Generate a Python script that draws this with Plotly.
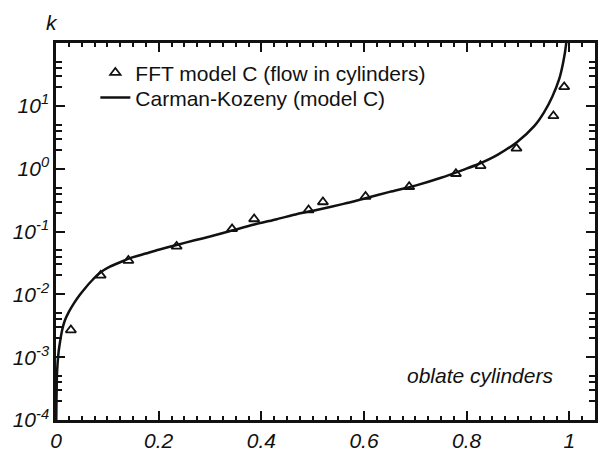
import plotly.graph_objects as go

# FFT model C data (triangles)
fft_x = [0.029, 0.087, 0.141, 0.235, 0.343, 0.386, 0.492, 0.520, 0.603, 0.688, 0.779, 0.827, 0.897, 0.969, 0.990]
fft_k = [0.0027, 0.020, 0.0345, 0.058, 0.110, 0.158, 0.22, 0.295, 0.36, 0.515, 0.83, 1.11, 2.1, 6.9, 20.0]

# Carman-Kozeny curve
ck_x = [0.0005, 0.002, 0.005, 0.008, 0.012, 0.017, 0.025, 0.033, 0.045, 0.056, 0.070,
        0.087, 0.105, 0.125, 0.150, 0.175, 0.200, 0.235, 0.270, 0.300, 0.343, 0.386,
        0.430, 0.470, 0.512, 0.560, 0.603, 0.650, 0.700, 0.750, 0.796, 0.822, 0.860,
        0.899, 0.932, 0.951, 0.967, 0.980, 0.988, 0.994, 0.997]
ck_k = [1.0e-4, 5.6e-4, 1.2e-3, 1.78e-3, 2.7e-3, 3.8e-3, 5.25e-3, 6.8e-3, 9.5e-3, 1.23e-2, 1.66e-2,
        2.24e-2, 2.75e-2, 3.24e-2, 3.9e-2, 4.47e-2, 5.13e-2, 6.1e-2, 7.24e-2, 8.3e-2, 0.1035, 0.129,
        0.157, 0.19, 0.224, 0.275, 0.339, 0.427, 0.537, 0.716, 0.977, 1.175, 1.66,
        2.69, 4.79, 7.94, 14.1, 26.3, 49.0, 100.0, 250.0]

x_tickvals = [0, 0.2, 0.4, 0.6, 0.8, 1.0]
x_ticktext = ["0", "0.2", "0.4", "0.6", "0.8", "1"]
y_tickvals = [1e-4, 1e-3, 1e-2, 1e-1, 1e0, 1e1]
y_ticktext = ["10<sup>-4</sup>", "10<sup>-3</sup>", "10<sup>-2</sup>", "10<sup>-1</sup>",
              "10<sup>0</sup>", "10<sup>1</sup>"]

FONT = "Liberation Sans, Arial, Helvetica, sans-serif"
FS = 21

fig = go.Figure()
fig.add_trace(go.Scatter(
    x=fft_x, y=fft_k, mode="markers", name="FFT model C (flow in cylinders)",
    marker=dict(symbol="triangle-up-open", size=9, color="#111", line=dict(width=1.8, color="#111")),
    legend="legend",
))
fig.add_trace(go.Scatter(
    x=ck_x, y=ck_k, mode="lines", name="Carman-Kozeny (model C)",
    line=dict(color="#111", width=2.5, shape="spline", smoothing=0.6),
    legend="legend2",
))

minor_y = []
for e in range(-4, 2):
    for m in (2, 3, 4, 5):
        minor_y.append(m * 10 ** e)

leg_common = dict(xanchor="left", yanchor="top", bgcolor="rgba(0,0,0,0)",
                  font=dict(size=FS, family=FONT), itemwidth=30)

fig.update_layout(
    width=606, height=460,
    margin=dict(l=56, r=8, t=43, b=37),
    paper_bgcolor="white", plot_bgcolor="white",
    font=dict(family=FONT, size=FS, color="#111"),
    showlegend=True,
    legend=dict(x=0.073, y=0.975, **leg_common),
    legend2=dict(x=0.073, y=0.909, **leg_common),
    xaxis=dict(
        range=[0, 1.05], showgrid=False, zeroline=False,
        showline=True, linewidth=2.5, linecolor="#111", mirror="ticks",
        ticks="inside", ticklen=9, tickwidth=2, tickcolor="#111",
        tickmode="array", tickvals=x_tickvals, ticktext=x_ticktext,
        tickfont=dict(size=FS, style="italic", family=FONT),
        minor=dict(dtick=0.025, tick0=0, ticks="inside", ticklen=4, tickwidth=2, tickcolor="#111", showgrid=False),
    ),
    yaxis=dict(
        type="log", range=[-4, 2], showgrid=False, zeroline=False,
        showline=True, linewidth=2.5, linecolor="#111", mirror="ticks",
        ticks="inside", ticklen=9, tickwidth=2, tickcolor="#111",
        tickmode="array", tickvals=y_tickvals, ticktext=y_ticktext,
        tickfont=dict(size=FS, style="italic", family=FONT),
        minor=dict(tickmode="array", tickvals=minor_y, ticks="inside", ticklen=6, tickwidth=2, tickcolor="#111", showgrid=False),
    ),
    annotations=[
        dict(text="k", xref="paper", yref="paper", x=-0.007, y=1.055, xanchor="center", yanchor="middle",
             showarrow=False, font=dict(size=FS, style="italic", family=FONT)),
        dict(text="oblate cylinders", xref="paper", yref="paper", x=0.786, y=0.118,
             xanchor="center", yanchor="middle", showarrow=False,
             font=dict(size=FS, style="italic", family=FONT)),
    ],
)

fig.write_html("out.html")
